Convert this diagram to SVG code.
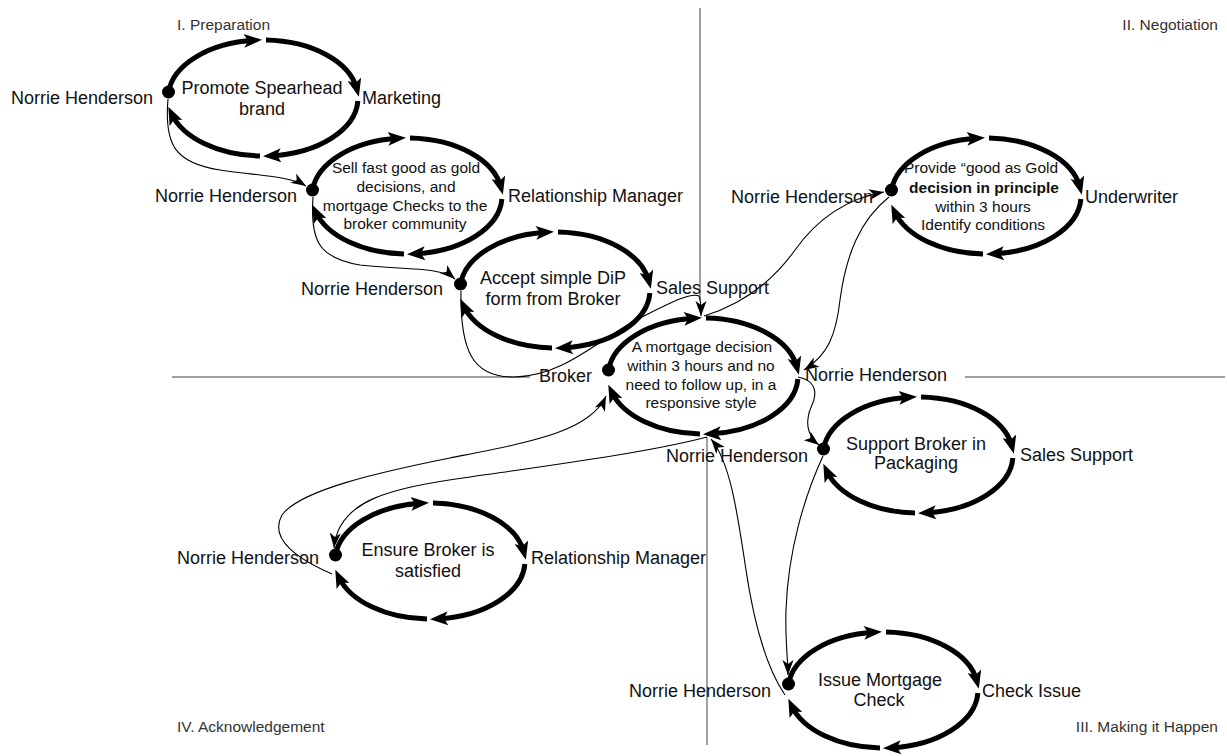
<svg xmlns="http://www.w3.org/2000/svg" xmlns:xlink="http://www.w3.org/1999/xlink" width="1227" height="756" viewBox="0 0 1227 756">
<style>
.arc{fill:none;stroke:#000;stroke-width:5;marker-end:url(#ah)}
.c{fill:none;stroke:#000;stroke-width:1.1;marker-end:url(#as)}
.ax{fill:none;stroke:#808080;stroke-width:1.5}
text{font-family:"Liberation Sans",Arial,sans-serif;fill:#111}
.l{font-size:18px}
.r{font-size:18px;text-anchor:end}
.m{font-size:18px;text-anchor:middle}
.s{font-size:15.5px;text-anchor:middle}
.b{font-weight:bold}
.q{font-size:15.5px;fill:#333}
.qe{font-size:15.5px;fill:#333;text-anchor:end}
</style>
<defs>
<marker id="ah" markerUnits="userSpaceOnUse" markerWidth="20" markerHeight="16" refX="10" refY="7" orient="auto" overflow="visible"><path d="M0,0 L18,7 L0,14 L4,7 z" fill="#000"/></marker>
<marker id="as" markerUnits="userSpaceOnUse" markerWidth="16" markerHeight="12" refX="15" refY="5.5" orient="auto" overflow="visible"><path d="M0,0 L15,5.5 L0,11 L4,5.5 z" fill="#000"/></marker>
<g id="ring">
<path class="arc" d="M-94.5,-6 A95 58 0 0 1 -9,-57.7"/>
<path class="arc" d="M3,-57.97 A95 58 0 0 1 93.85,-9"/>
<path class="arc" d="M94.87,3 A95 58 0 0 1 8,57.8"/>
<path class="arc" d="M-3,57.97 A95 58 0 0 1 -91.3,16"/>
<circle cx="-94.5" cy="-6" r="6.5" fill="#000"/>
</g>
</defs>
<rect width="1227" height="756" fill="#fff"/>
<g id="axes">
<line class="ax" x1="700" y1="8" x2="700" y2="300"/>
<line class="ax" x1="707" y1="437" x2="707" y2="745"/>
<line class="ax" x1="172" y1="377" x2="530" y2="377"/>
<line class="ax" x1="965" y1="377" x2="1225" y2="377"/>
</g>
<g id="quadrants">
<text class="q" x="177" y="30">I. Preparation</text>
<text class="qe" x="1218" y="30">II. Negotiation</text>
<text class="q" x="177" y="732">IV. Acknowledgement</text>
<text class="qe" x="1218" y="732">III. Making it Happen</text>
</g>
<g id="connectors">
<path class="c" d="M168,99 C164,145 175,163 220,170 C260,176 290,176 306,186"/>
<path class="c" d="M313,197 C310,240 318,258 360,265 C400,270 440,266 455,279"/>
<path class="c" d="M461,291 C460,350 472,378 515,377 C565,376 600,338 640,318 C668,304 690,292 699,296 C701,300 701,308 701,316"/>
<path class="c" d="M704,316 C740,305 770,285 795,250 C820,215 850,198 884,192"/>
<path class="c" d="M889,197 C860,220 846,255 840,300 C836,335 828,355 804,370"/>
<path class="c" d="M798,377 C815,380 818,392 812,405 C805,420 806,435 819,445"/>
<path class="c" d="M823,456 C805,495 788,550 786,610 C785,640 788,660 788,675"/>
<path class="c" d="M785,695 C768,670 755,630 746,570 C737,510 730,462 711,439"/>
<path class="c" d="M707,437 C650,452 560,464 470,477 C390,488 338,500 334,548"/>
<path class="c" d="M332,574 C300,560 268,540 282,515 C300,490 380,472 450,458 C530,442 590,432 606,396"/>
</g>
<g id="n1">
<use xlink:href="#ring" href="#ring" transform="translate(263,98)"/>
<text class="m" x="262" y="94">Promote Spearhead</text>
<text class="m" x="262" y="115">brand</text>
<text class="r" x="153" y="104">Norrie Henderson</text>
<text class="l" x="362" y="104">Marketing</text>
</g>
<g id="n2">
<use xlink:href="#ring" href="#ring" transform="translate(407,196)"/>
<text class="s" x="406" y="173">Sell fast good as gold</text>
<text class="s" x="406" y="192">decisions, and</text>
<text class="s" x="405" y="211">mortgage Checks to the</text>
<text class="s" x="405" y="229">broker community</text>
<text class="r" x="297" y="202">Norrie Henderson</text>
<text class="l" x="508" y="202">Relationship Manager</text>
</g>
<g id="n3">
<use xlink:href="#ring" href="#ring" transform="translate(555,290)"/>
<text class="m" x="553" y="284">Accept simple DiP</text>
<text class="m" x="553" y="305">form from Broker</text>
<text class="r" x="443" y="295">Norrie Henderson</text>
<text class="l" x="656" y="294">Sales Support</text>
</g>
<g id="n4">
<use xlink:href="#ring" href="#ring" transform="translate(703,376)"/>
<text class="s" x="702" y="352">A mortgage decision</text>
<text class="s" x="701" y="371">within 3 hours and no</text>
<text class="s" x="701" y="390">need to follow up, in a</text>
<text class="s" x="701" y="408">responsive style</text>
<text class="r" x="592" y="382">Broker</text>
<text class="l" x="805" y="381">Norrie Henderson</text>
</g>
<g id="n5">
<use xlink:href="#ring" href="#ring" transform="translate(986,196)"/>
<text class="s" x="981" y="173">Provide “good as Gold</text>
<text class="s b" x="984" y="193">decision in principle</text>
<text class="s" x="983" y="212">within 3 hours</text>
<text class="s" x="983" y="230">Identify conditions</text>
<text class="r" x="873" y="203">Norrie Henderson</text>
<text class="l" x="1085" y="203">Underwriter</text>
</g>
<g id="n6">
<use xlink:href="#ring" href="#ring" transform="translate(918,455)"/>
<text class="m" x="916" y="450">Support Broker in</text>
<text class="m" x="916" y="469">Packaging</text>
<text class="r" x="808" y="462">Norrie Henderson</text>
<text class="l" x="1020" y="461">Sales Support</text>
</g>
<g id="n7">
<use xlink:href="#ring" href="#ring" transform="translate(430,561)"/>
<text class="m" x="428" y="556">Ensure Broker is</text>
<text class="m" x="428" y="577">satisfied</text>
<text class="r" x="319" y="564">Norrie Henderson</text>
<text class="l" x="531" y="564">Relationship Manager</text>
</g>
<g id="n8">
<use xlink:href="#ring" href="#ring" transform="translate(883,690)"/>
<text class="m" x="880" y="686">Issue Mortgage</text>
<text class="m" x="879" y="706">Check</text>
<text class="r" x="771" y="697">Norrie Henderson</text>
<text class="l" x="982" y="697">Check Issue</text>
</g>
</svg>
